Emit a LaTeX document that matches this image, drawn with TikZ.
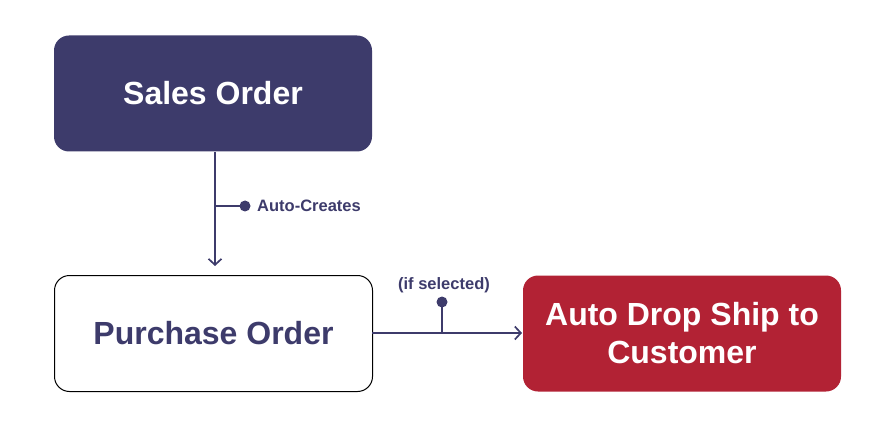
\documentclass[tikz,border=0pt]{standalone}
\usepackage{fontspec}
\setmainfont{Liberation Sans}
\usetikzlibrary{arrows.meta}
\definecolor{navy}{HTML}{3D3B6B}
\definecolor{crimson}{HTML}{B22234}
\tikzset{
  x=1pt, y=-1pt,
  box/.style={rounded corners=15pt, minimum width=318pt, minimum height=116pt, align=center, font=\fontsize{32}{38}\selectfont\bfseries, inner sep=0pt},
  link/.style={draw=navy, line width=1.7pt},
  tip/.style={-{Straight Barb[length=6pt,width=13pt,line width=1.7pt]}},
  dot/.style={circle, fill=navy, inner sep=0pt, minimum size=11pt},
  lbl/.style={text=navy, font=\fontsize{16.5}{19}\selectfont\bfseries, inner sep=0pt}
}
\begin{document}
\begin{tikzpicture}
\useasboundingbox (0,0) rectangle (882,430);
\node[box, fill=navy, text=white] (so) at (213,93.5) {Sales Order};
\node[box, draw=black, line width=1pt, fill=white, text=navy] (po) at (213.5,333.5) {Purchase Order};
\node[box, fill=crimson, text=white] (ds) at (682,333.5) {Auto Drop Ship to\\Customer};
\coordinate (s1) at (215,152);
\coordinate (s2) at (215,266);
\draw[link, tip] (s1) -- (s2);
\coordinate (b1) at (215,206);
\node[dot] (d1) at (245,206) {};
\draw[link] (b1) -- (d1.center);
\node[lbl, anchor=west] (t1) at (257,206) {Auto-Creates};
\coordinate (p1) at (372,333);
\coordinate (p2) at (522,333);
\draw[link, tip] (p1) -- (p2);
\coordinate (b2) at (442,333);
\node[dot] (d2) at (442,302) {};
\draw[link] (b2) -- (d2.center);
\node[lbl] (t2) at (444,285) {(if selected)};
\end{tikzpicture}
\end{document}
